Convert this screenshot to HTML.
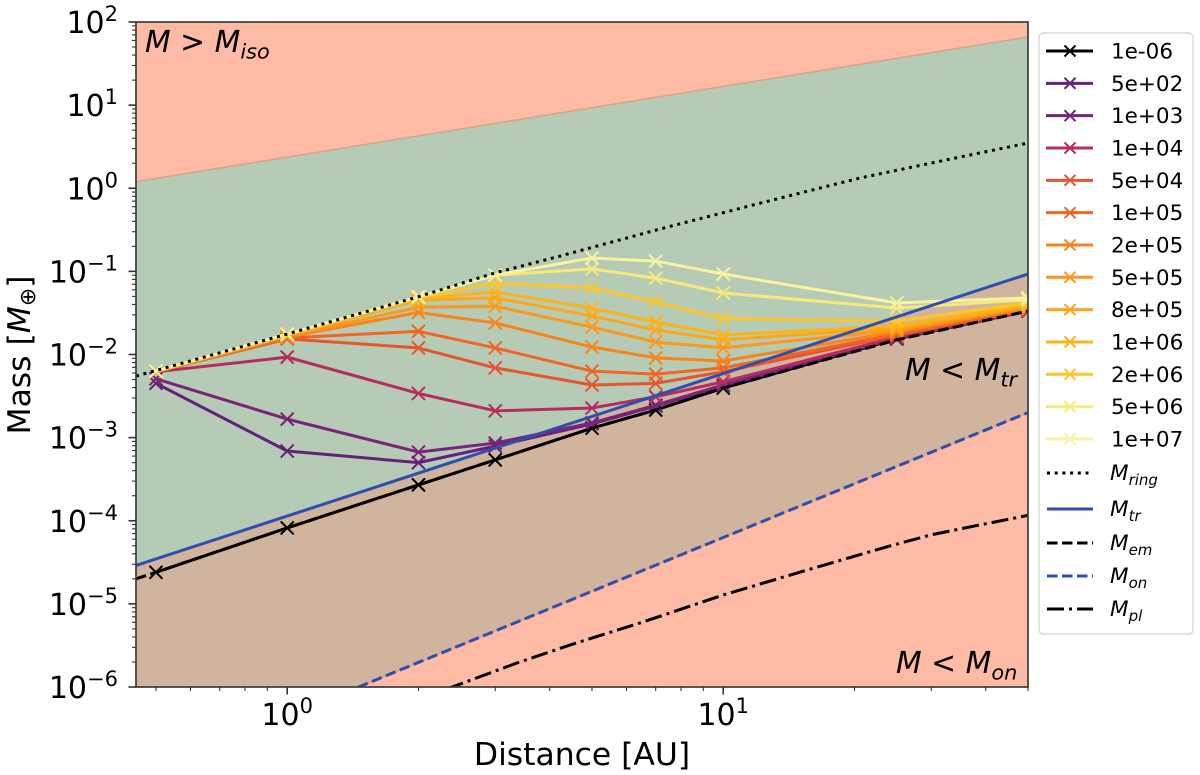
<!DOCTYPE html>
<html lang="en">
<head>
<meta charset="utf-8">
<title>Mass vs Distance</title>
<style>
html,body{margin:0;padding:0;background:#fff;}
svg{display:block;font-family:"DejaVu Sans","Liberation Sans",sans-serif;}
</style>
</head>
<body>
<svg id="chart" xmlns="http://www.w3.org/2000/svg" width="1200" height="775" viewBox="0 0 1200 775">
<defs><clipPath id="plot-clip"><rect x="136" y="22" width="892" height="665"></rect></clipPath></defs>
</svg>
<script>
// ---- data ----
const distances = [0.5, 1, 2, 3, 5, 7, 10, 25, 50];
const seriesLabels = ['1e-06','5e+02','1e+03','1e+04','5e+04','1e+05','2e+05','5e+05','8e+05','1e+06','2e+06','5e+06','1e+07'];
const seriesColors = ['#000000','#65207a','#782579','#b52c5e','#e5562f','#ef6622','#f8841c','#fb991a','#fca61a','#fdb318','#fcc62c','#f5ea7a','#f8f2a2'];
const m1em06 = [2.4e-5, 8.2e-5, 2.7e-4, 5.4e-4, 1.3e-3, 2.15e-3, 3.95e-3, 1.54e-2, 3.33e-2];
const m5e02 = [4.5e-3, 6.9e-4, 5.0e-4, 7.9e-4, 1.46e-3, 2.4e-3, 4.2e-3, 1.56e-2, 3.33e-2];
const m1e03 = [5.1e-3, 1.67e-3, 6.7e-4, 8.6e-4, 1.5e-3, 2.46e-3, 4.3e-3, 1.58e-2, 3.33e-2];
const m1e04 = [6.2e-3, 9.3e-3, 3.4e-3, 2.1e-3, 2.27e-3, 3.1e-3, 4.7e-3, 1.62e-2, 3.38e-2];
const m5e04 = [6.2e-3, 1.54e-2, 1.2e-2, 6.9e-3, 4.3e-3, 4.5e-3, 6.2e-3, 1.71e-2, 3.43e-2];
const m1e05 = [6.2e-3, 1.58e-2, 1.9e-2, 1.2e-2, 6.3e-3, 5.8e-3, 6.9e-3, 1.76e-2, 3.53e-2];
const m2e05 = [6.2e-3, 1.62e-2, 3.2e-2, 2.4e-2, 1.23e-2, 9.1e-3, 8.35e-3, 1.87e-2, 3.63e-2];
const m5e05 = [6.25e-3, 1.67e-2, 3.7e-2, 3.8e-2, 2.14e-2, 1.41e-2, 1.2e-2, 1.97e-2, 3.73e-2];
const m8e05 = [6.25e-3, 1.7e-2, 4.5e-2, 4.8e-2, 2.9e-2, 1.97e-2, 1.5e-2, 2.09e-2, 3.83e-2];
const m1e06 = [6.3e-3, 1.72e-2, 4.65e-2, 5.65e-2, 3.6e-2, 2.46e-2, 1.72e-2, 2.2e-2, 3.94e-2];
const m2e06 = [6.3e-3, 1.74e-2, 4.8e-2, 7.25e-2, 6.3e-2, 4.3e-2, 2.7e-2, 2.53e-2, 4.17e-2];
const m5e06 = [6.3e-3, 1.75e-2, 4.9e-2, 9.0e-2, 1.07e-1, 8.3e-2, 5.5e-2, 3.63e-2, 4.53e-2];
const m1e07 = [6.3e-3, 1.76e-2, 4.95e-2, 9.0e-2, 1.45e-1, 1.33e-1, 9.3e-2, 4.17e-2, 4.8e-2];
const seriesValues = [m1em06, m5e02, m1e03, m1e04, m5e04, m1e05, m2e05, m5e05, m8e05, m1e06, m2e06, m5e06, m1e07];

const edgeDist = [0.45, 50];
const isoMass = [1.2, 66];
const trMass = [2.9e-5, 9.3e-2];
const onMass = [8e-8, 2e-3];
const ringDist = [0.45, 1, 2, 3, 4.23, 7.17, 12.2, 20.6, 35, 50];
const ringMass = [5.5e-3, 1.76e-2, 4.95e-2, 9.6e-2, 1.53e-1, 3.24e-1, 6.65e-1, 1.33, 2.38, 3.5];
const emDist = [0.45, 0.5, 1, 2, 3, 5, 7, 10, 25, 50];
const emMass = [2e-5, 2.4e-5, 8.2e-5, 2.7e-4, 5.4e-4, 1.3e-3, 2.15e-3, 3.95e-3, 1.5e-2, 3.33e-2];
const plDist = [2, 2.39, 3.37, 4.53, 6.45, 10, 15.6, 24.2, 30.1, 37.5, 50];
const plMass = [7.3e-7, 1e-6, 1.95e-6, 3.3e-6, 5.9e-6, 1.28e-5, 2.56e-5, 5e-5, 6.8e-5, 8.6e-5, 1.16e-4];

const xTickExponents = [0, 1];
const xMinorTicks = [0.5,0.6,0.7,0.8,0.9,2,3,4,5,6,7,8,9,20,30,40,50];
const yTickExponents = [2,1,0,-1,-2,-3,-4,-5,-6];
const yMinorFactors = [2,3,4,5,6,7,8,9];

// ---- axis functions ----
const PLOT = {left:136, right:1028, top:22, bottom:687};
const X_MIN = 0.45, X_MAX = 50, Y_MIN = 1e-6, Y_MAX = 100;
function xScale(d){
  return PLOT.left + (Math.log10(d)-Math.log10(X_MIN))/(Math.log10(X_MAX)-Math.log10(X_MIN))*(PLOT.right-PLOT.left);
}
function yScale(m){
  return PLOT.bottom - (Math.log10(m)-Math.log10(Y_MIN))/(Math.log10(Y_MAX)-Math.log10(Y_MIN))*(PLOT.bottom-PLOT.top);
}
const NS = 'http://www.w3.org/2000/svg';
const svg = document.getElementById('chart');
function mk(tag, attrs, parent){
  const e = document.createElementNS(NS, tag);
  for (const k in attrs) e.setAttribute(k, attrs[k]);
  (parent || svg).appendChild(e);
  return e;
}
function pathFrom(xs, ys){
  return xs.map((d,i)=>(i?'L':'M')+xScale(d).toFixed(2)+' '+yScale(ys[i]).toFixed(2)).join(' ');
}
function bandPath(xs, upper, lower){
  return pathFrom(xs, upper) + ' L' + xs.slice().reverse().map((d,i)=>xScale(d).toFixed(2)+' '+yScale(lower[xs.length-1-i]).toFixed(2)).join(' L') + ' Z';
}
function addTspan(parent, text, attrs){
  const t = document.createElementNS(NS,'tspan');
  for (const k in attrs) t.setAttribute(k, attrs[k]);
  t.textContent = text;
  parent.appendChild(t);
  return t;
}

// ---- plot regions ----
const plotGroup = mk('g', {'clip-path':'url(#plot-clip)'});



const bgRegion = mk('rect', {x:PLOT.left, y:PLOT.top, width:PLOT.right-PLOT.left, height:PLOT.bottom-PLOT.top, fill:'#fdbba5'}, plotGroup);



const greenRegion = mk('path', {d:bandPath(edgeDist, isoMass, trMass), fill:'#b6cbb5'}, plotGroup);



const brownRegion = mk('path', {d:bandPath(edgeDist, trMass, onMass), fill:'#d0b49e'}, plotGroup);



const isoEdge = mk('path', {d:pathFrom(edgeDist, isoMass), fill:'none', stroke:'#d3a78c', 'stroke-width':1.6}, plotGroup);



const onEdge = mk('path', {d:pathFrom(edgeDist, onMass), fill:'none', stroke:'#e2a086', 'stroke-width':1.6}, plotGroup);



// ---- series ----
seriesValues.forEach(function(vals, i){
  const g = mk('g', {}, plotGroup);
  
  
  const line = mk('path', {d:pathFrom(distances, vals), fill:'none', stroke:seriesColors[i], 'stroke-width':3, 'stroke-linejoin':'round'}, g);
  
  
  vals.forEach(function(v, j){
    const cx = xScale(distances[j]), cy = yScale(v), r = 6.5;
    const mark = mk('path', {d:'M'+(cx-r)+' '+(cy-r)+' L'+(cx+r)+' '+(cy+r)+' M'+(cx-r)+' '+(cy+r)+' L'+(cx+r)+' '+(cy-r), fill:'none', stroke:seriesColors[i], 'stroke-width':2}, g);
    
    
  });
});

// ---- reference curves ----
const ringLine = mk('path', {d:pathFrom(ringDist, ringMass), fill:'none', stroke:'#000', 'stroke-width':3, 'stroke-dasharray':'3 4.7'}, plotGroup);



const trLine = mk('path', {d:pathFrom(edgeDist, trMass), fill:'none', stroke:'#2f4fae', 'stroke-width':3}, plotGroup);



const emLine = mk('path', {d:pathFrom(emDist, emMass), fill:'none', stroke:'#000', 'stroke-width':3, 'stroke-dasharray':'10.5 4.5'}, plotGroup);



const onLine = mk('path', {d:pathFrom(edgeDist, onMass), fill:'none', stroke:'#2f4fae', 'stroke-width':3, 'stroke-dasharray':'10.5 4.5'}, plotGroup);



const plLine = mk('path', {d:pathFrom(plDist, plMass), fill:'none', stroke:'#000', 'stroke-width':3, 'stroke-dasharray':'17 5 3 5'}, plotGroup);



// ---- region annotations ----
function mathLabel(x, y, size, pre, sub, name){
  const t = mk('text', {x:x, y:y, 'font-size':size, 'font-style':'italic', fill:'#000'});
  
  
  addTspan(t, pre, {});
  addTspan(t, sub, {'font-size':size*0.7, dy:size*0.22});
  return t;
}
mathLabel(145, 52, 29.8, 'M > M', 'iso', 'label-m-greater-iso');
mathLabel(905, 380, 29.8, 'M < M', 'tr', 'label-m-less-tr');
mathLabel(896, 673, 29.8, 'M < M', 'on', 'label-m-less-on');

// ---- spines ----
const spines = mk('rect', {x:PLOT.left, y:PLOT.top, width:PLOT.right-PLOT.left, height:PLOT.bottom-PLOT.top, fill:'none', stroke:'#3c3c3c', 'stroke-width':1.7});



// ---- ticks ----
function tickLabel(x, y, anchor, exp, name){
  const t = mk('text', {x:x, y:y, 'font-size':30, 'text-anchor':anchor, fill:'#000'});
  
  
  addTspan(t, '10', {});
  addTspan(t, String(exp).replace('-', '\u2212'), {'font-size':21, dy:-12});
}
const tickColor = '#333';
xTickExponents.forEach(function(e){
  const x = xScale(Math.pow(10, e));
  const tk = mk('line', {x1:x, x2:x, y1:PLOT.bottom, y2:PLOT.bottom+7.5, stroke:tickColor, 'stroke-width':1.6});
  
  
  tickLabel(x, 725, 'middle', e, 'x-tick-label');
});
xMinorTicks.forEach(function(v){
  const x = xScale(v);
  const tk = mk('line', {x1:x, x2:x, y1:PLOT.bottom, y2:PLOT.bottom+4, stroke:tickColor, 'stroke-width':1.1});
  
  
});
yTickExponents.forEach(function(e){
  const v = Math.pow(10, e), y = yScale(v);
  const tk = mk('line', {x1:PLOT.left-7.5, x2:PLOT.left, y1:y, y2:y, stroke:tickColor, 'stroke-width':1.6});
  
  
  tickLabel(118, y+11, 'end', e, 'y-tick-label');
  if (e > -6) {
    yMinorFactors.forEach(function(f){
      const my = yScale(f*Math.pow(10, e-1));
      const mt = mk('line', {x1:PLOT.left-4, x2:PLOT.left, y1:my, y2:my, stroke:tickColor, 'stroke-width':1.1});
      
      
    });
  }
});

// ---- axis titles ----
const xTitle = mk('text', {x:582, y:765, 'font-size':31.4, 'text-anchor':'middle', fill:'#000'});


xTitle.textContent = 'Distance [AU]';

const yTitle = mk('text', {x:0, y:0, 'font-size':31.4, 'text-anchor':'middle', fill:'#000', transform:'translate(30 355) rotate(-90)'});


addTspan(yTitle, 'Mass [', {});
addTspan(yTitle, 'M', {'font-style':'italic'});
addTspan(yTitle, '\u2295', {'font-size':22, dy:5});
addTspan(yTitle, ']', {dy:-5});

// ---- legend ----
const legend = mk('g', {});


const legendBox = mk('rect', {x:1039, y:33, width:154, height:601, rx:4, ry:4, fill:'#fff', stroke:'#dcdcdc', 'stroke-width':1.5}, legend);



seriesLabels.forEach(function(lbl, i){
  const y = 51 + i*32.33;
  const g = mk('g', {}, legend);
  
  
  mk('line', {x1:1046, x2:1093, y1:y, y2:y, stroke:seriesColors[i], 'stroke-width':3}, g);
  const r = 5.5, c = 1070;
  mk('path', {d:'M'+(c-r)+' '+(y-r)+' L'+(c+r)+' '+(y+r)+' M'+(c-r)+' '+(y+r)+' L'+(c+r)+' '+(y-r), fill:'none', stroke:seriesColors[i], 'stroke-width':2}, g);
  const t = mk('text', {x:1111, y:y+7.5, 'font-size':21.5, fill:'#000'}, g);
  t.textContent = lbl;
});

const curveLabels = ['ring','tr','em','on','pl'];
const curveRows = [473, 509, 543, 576, 609];
const curveColors = ['#000','#2f4fae','#000','#2f4fae','#000'];
const curveDashes = ['3 4.7','none','10.5 4.5','10.5 4.5','17 5 3 5'];
curveLabels.forEach(function(lbl, i){
  const y = curveRows[i];
  const g = mk('g', {}, legend);
  
  
  mk('line', {x1:1047, x2:1093, y1:y, y2:y, stroke:curveColors[i], 'stroke-width':3, 'stroke-dasharray':curveDashes[i]}, g);
  const t = mk('text', {x:1110, y:y+7, 'font-size':21.5, 'font-style':'italic', fill:'#000'}, g);
  addTspan(t, 'M', {});
  addTspan(t, lbl, {'font-size':15, dy:5});
});
</script>
</body>
</html>
